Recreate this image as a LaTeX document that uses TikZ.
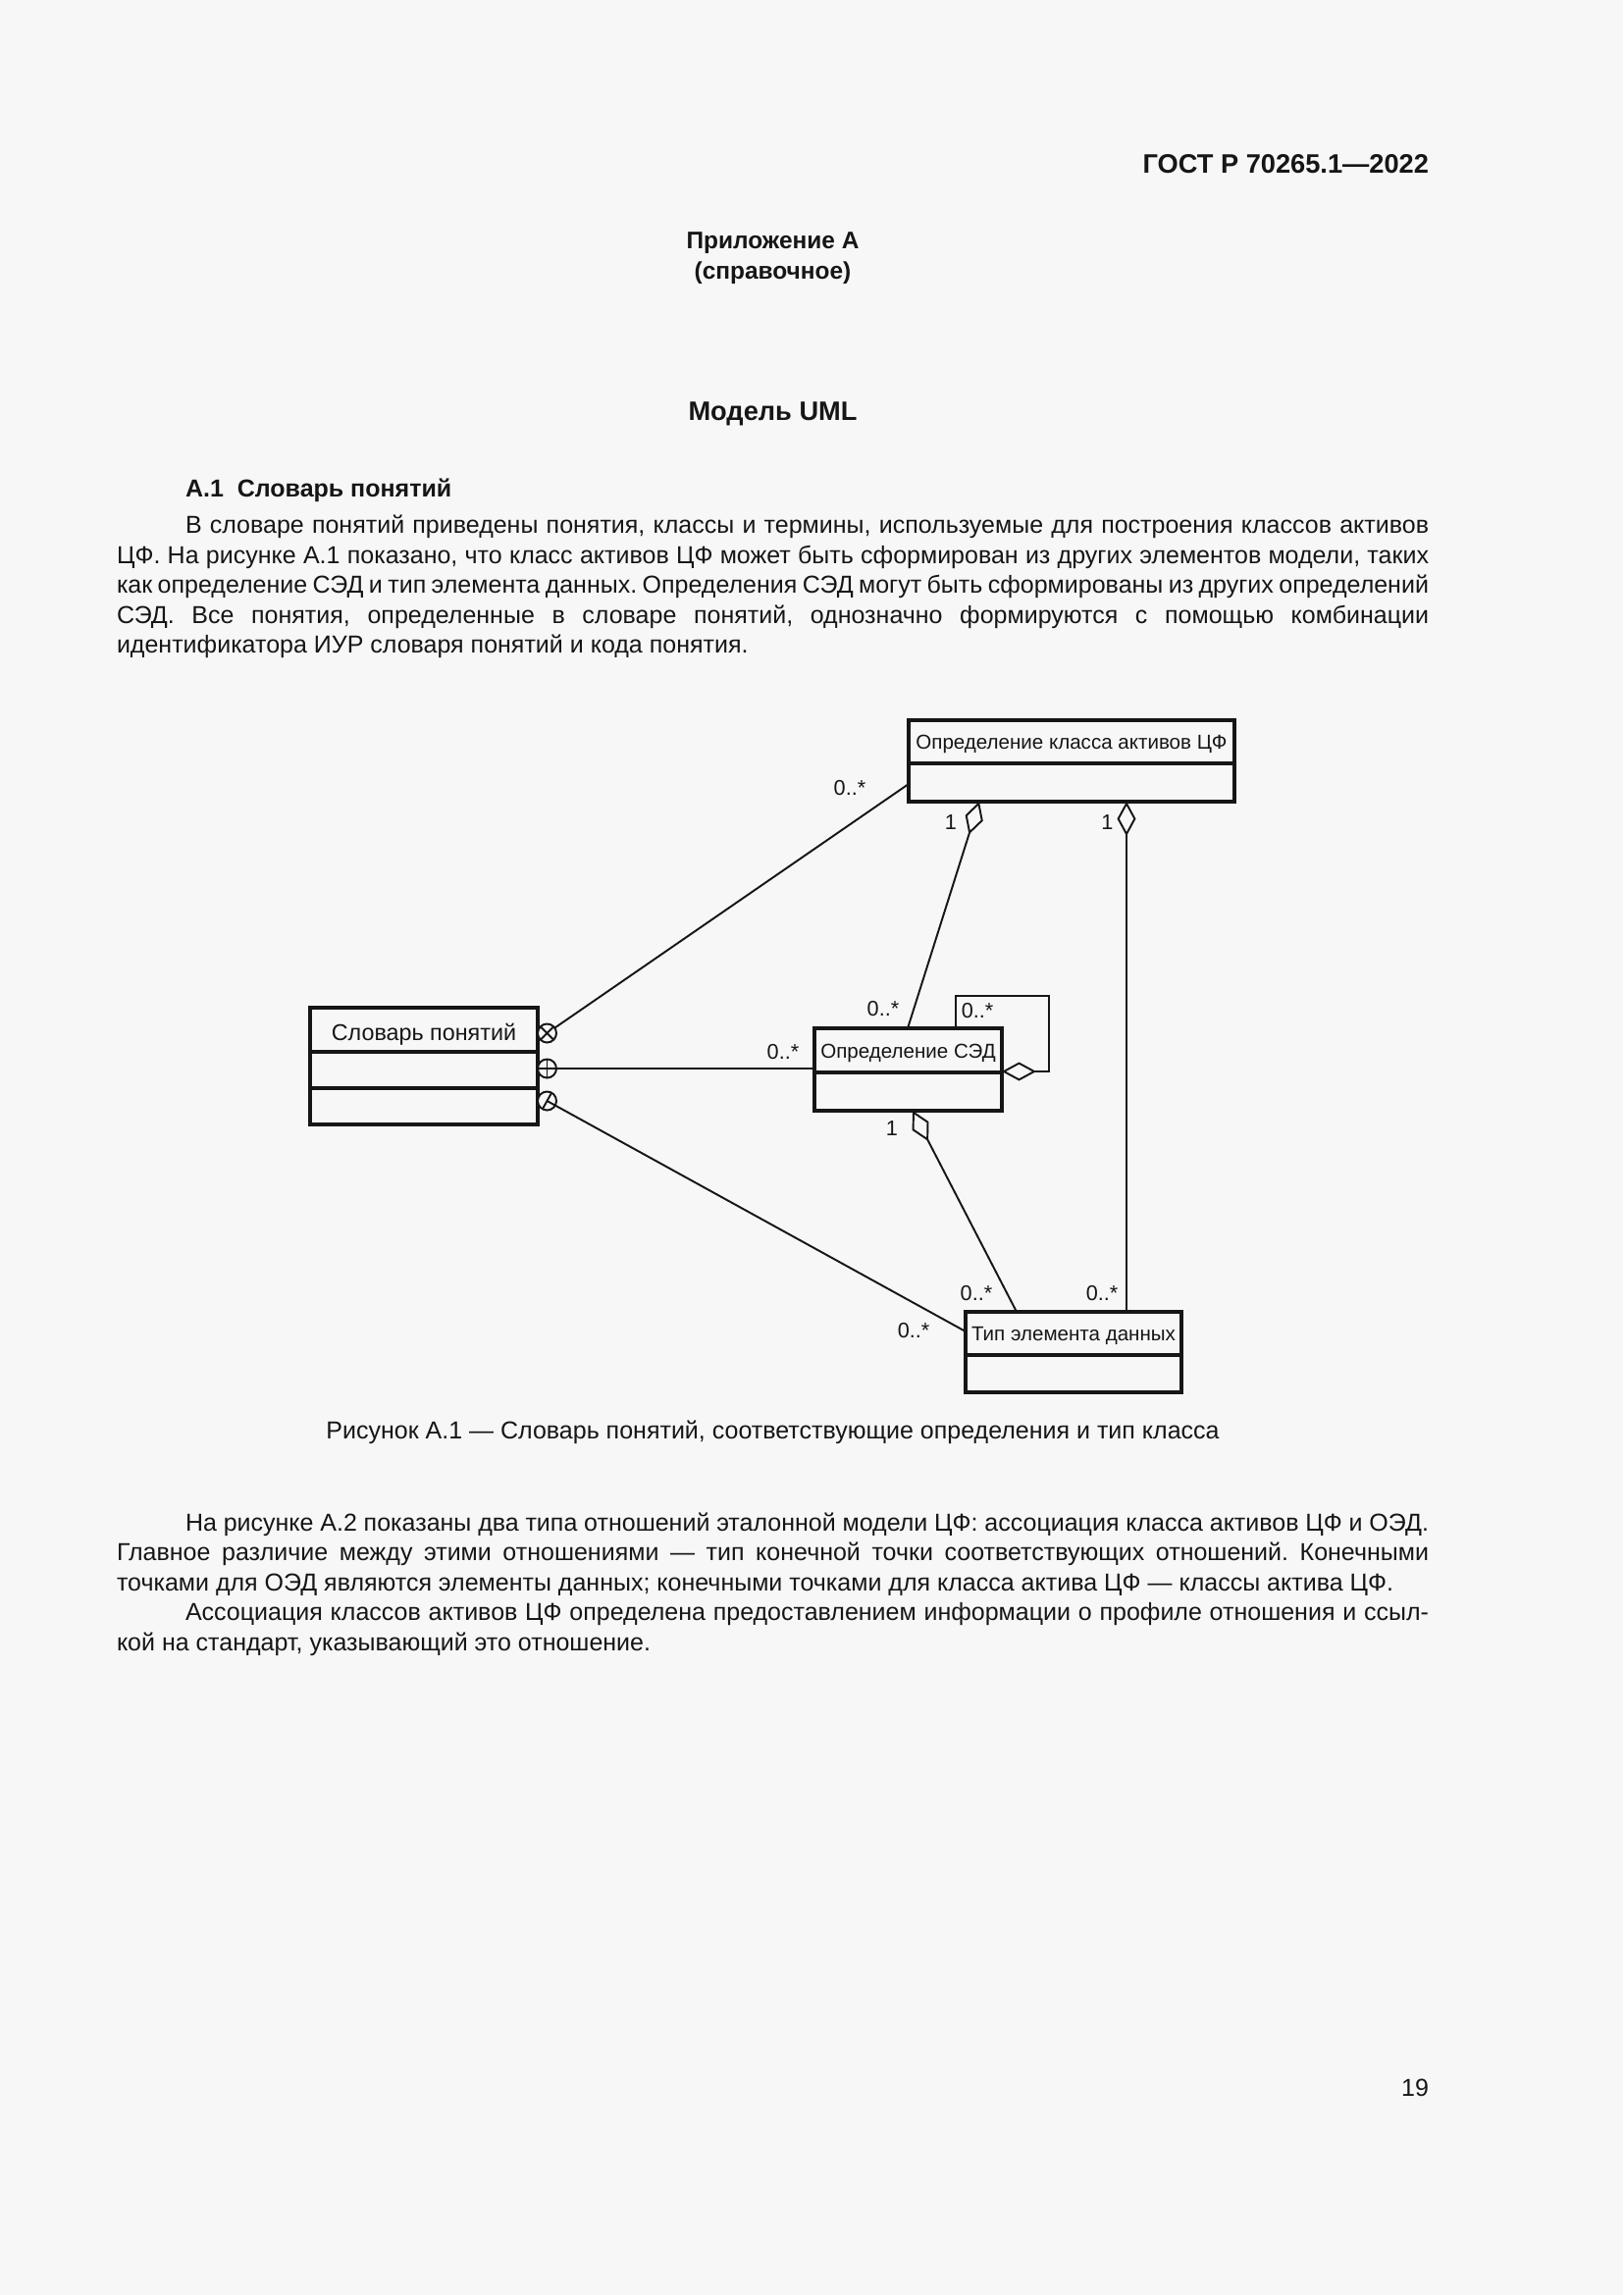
\documentclass[tikz,border=0pt]{standalone}
\usepackage{fontspec}
\setmainfont{Liberation Sans}
\usetikzlibrary{arrows.meta}
\definecolor{ink}{RGB}{22,22,22}
\definecolor{pagebg}{RGB}{247,247,247}
\frenchspacing
\tikzset{
  txt/.style={inner sep=0pt, outer sep=0pt, text=ink},
  bodyline/.style={txt, font=\fontsize{9pt}{11pt}\selectfont, anchor=base west},
  classbox/.style={draw=ink, line width=1.2pt, inner sep=0pt, outer sep=0pt, anchor=north west},
  divider/.style={draw=ink, line width=1.2pt},
  assoc/.style={draw=ink, line width=0.7pt},
  agg/.style={draw=ink, line width=0.7pt, -{Diamond[open, length=12.6pt, width=6.84pt]}},
  mult/.style={txt, font=\fontsize{7.8pt}{9pt}\selectfont, anchor=base},
  ctitle/.style={txt, font=\fontsize{7.4pt}{9pt}\selectfont, anchor=base},
  endmark/.style={circle, draw=ink, line width=0.7pt, minimum size=6.84pt, inner sep=0pt, outer sep=0pt, fill=pagebg},
}
\begin{document}
\begin{tikzpicture}[x=0.359903pt, y=-0.359903pt]
\fill[pagebg] (0,0) rectangle (1654,2339);
\useasboundingbox (0,0) rectangle (1654,2339);

% header and headings
\node[txt, anchor=base east, font=\bfseries\fontsize{9.8pt}{11pt}\selectfont] (hdr) at (1456,176.7) {ГОСТ Р 70265.1—2022};
\node[txt, anchor=base, font=\bfseries\fontsize{8.8pt}{11pt}\selectfont] (app) at (787.5,254) {Приложение А};
\node[txt, anchor=base, font=\bfseries\fontsize{8.8pt}{11pt}\selectfont] (appk) at (787.5,285) {(справочное)};
\node[txt, anchor=base, font=\bfseries\fontsize{9.8pt}{11pt}\selectfont] (ttl) at (787.5,428.5) {Модель UML};
\node[txt, anchor=base west, font=\bfseries\fontsize{9pt}{11pt}\selectfont] (sec) at (189,506) {А.1\hspace*{5pt}Словарь понятий};

% paragraph 1
\node[bodyline] (p1a) at (189,543.5) {\makebox[456.0pt][s]{В словаре понятий приведены понятия, классы и термины, используемые для построения классов активов}};
\node[bodyline] (p1b) at (119,574.0) {\makebox[481.2pt][s]{ЦФ. На рисунке А.1 показано, что класс активов ЦФ может быть сформирован из других элементов модели, таких}};
\node[bodyline] (p1c) at (119,604.6) {\makebox[481.2pt][s]{как определение СЭД и тип элемента данных. Определения СЭД могут быть сформированы из других определений}};
\node[bodyline] (p1d) at (119,635.2) {\makebox[481.2pt][s]{СЭД. Все понятия, определенные в словаре понятий, однозначно формируются с помощью комбинации}};
\node[bodyline] (p1e) at (119,665.7) {идентификатора ИУР словаря понятий и кода понятия.};

% class boxes
\node[classbox, minimum width=119.49pt, minimum height=29.87pt] (A) at (926,734) {};
\node[classbox, minimum width=83.50pt, minimum height=42.83pt] (S) at (316,1027) {};
\node[classbox, minimum width=68.74pt, minimum height=30.23pt] (D) at (830,1048) {};
\node[classbox, minimum width=79.18pt, minimum height=29.51pt] (T) at (984,1337) {};
\draw[divider] (A.west |- 0,778) -- (A.east |- 0,778);
\draw[divider] (S.west |- 0,1072) -- (S.east |- 0,1072);
\draw[divider] (S.west |- 0,1109) -- (S.east |- 0,1109);
\draw[divider] (D.west |- 0,1093) -- (D.east |- 0,1093);
\draw[divider] (T.west |- 0,1381) -- (T.east |- 0,1381);

\node[ctitle] (At) at (1092,763) {Определение класса активов ЦФ};
\node[txt, anchor=base, font=\fontsize{8.4pt}{10pt}\selectfont] (St) at (432,1060) {Словарь понятий};
\node[ctitle] (Dt) at (925.5,1078) {Определение СЭД};
\node[ctitle] (Tt) at (1094,1366) {Тип элемента данных};

% end marks on the vocabulary box
\node[endmark] (c1) at (557.5,1053) {};
\node[endmark] (c2) at (557.5,1089) {};
\node[endmark] (c3) at (557.5,1122) {};
\draw[assoc] (c1.north east) -- (c1.south west) (c1.north west) -- (c1.south east);
\draw[assoc] (c2.north) -- (c2.south) (c2.west) -- (c2.east);
\draw[assoc] (c3.61.1) -- (c3.241.1);

% associations
\draw[assoc] (c1) -- (A.west |- 0,799);
\draw[assoc] (c2) -- (D.west |- 0,1089);
\draw[assoc] (c3.center) -- (T.west |- 0,1357);

% aggregations
\draw[agg] (D.north -| 925,0) -- (A.south -| 998,0);
\draw[agg] (T.north -| 1148,0) -- (A.south -| 1148,0);
\draw[agg] (T.north -| 1036,0) -- (D.south -| 930,0);
\draw[agg] (D.north -| 974,0) -- (974,1015) -- (1069,1015) -- (1069,1092) -- (D.east |- 0,1092);

% multiplicities
\node[mult] (m1) at (866,810) {0..*};
\node[mult] (m2) at (969,845) {1};
\node[mult] (m3) at (1128.5,845) {1};
\node[mult] (m4) at (900,1035) {0..*};
\node[mult] (m5) at (996,1037) {0..*};
\node[mult] (m6) at (798,1079) {0..*};
\node[mult] (m7) at (909,1157) {1};
\node[mult] (m8) at (995,1325) {0..*};
\node[mult] (m9) at (1123,1325) {0..*};
\node[mult] (m10) at (931,1363) {0..*};

% caption
\node[txt, anchor=base, font=\fontsize{9pt}{11pt}\selectfont] (cap) at (787.5,1466.7) {Рисунок А.1 — Словарь понятий, соответствующие определения и тип класса};

% paragraphs 2 and 3
\node[bodyline] (p2a) at (189,1560.0) {\makebox[456.0pt][s]{На рисунке А.2 показаны два типа отношений эталонной модели ЦФ: ассоциация класса активов ЦФ и ОЭД.}};
\node[bodyline] (p2b) at (119,1590.5) {\makebox[481.2pt][s]{Главное различие между этими отношениями — тип конечной точки соответствующих отношений. Конечными}};
\node[bodyline] (p2c) at (119,1621.1) {точками для ОЭД являются элементы данных; конечными точками для класса актива ЦФ — классы актива ЦФ.};
\node[bodyline] (p3a) at (189,1651.6) {\makebox[456.0pt][s]{Ассоциация классов активов ЦФ определена предоставлением информации о профиле отношения и ссыл-}};
\node[bodyline] (p3b) at (119,1682.2) {кой на стандарт, указывающий это отношение.};

% page number
\node[txt, anchor=base east, font=\fontsize{9pt}{11pt}\selectfont] (pg) at (1456,2136.5) {19};
\end{tikzpicture}
\end{document}
